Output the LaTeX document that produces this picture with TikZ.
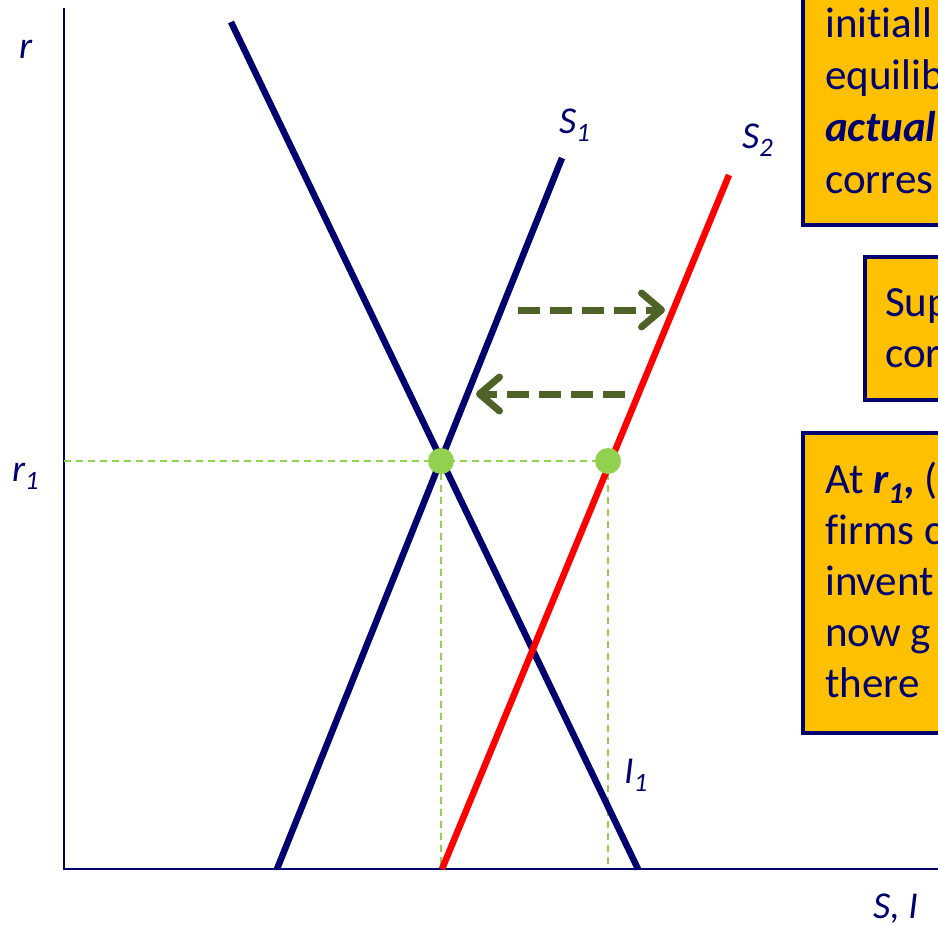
\documentclass[tikz,border=0pt]{standalone}
\usepackage{fontspec}
\setmainfont{Carlito}[Ligatures=NoCommon]
\usetikzlibrary{arrows.meta}
\definecolor{navy}{RGB}{0,0,110}
\definecolor{notefill}{RGB}{255,192,0}
\definecolor{olivegreen}{RGB}{79,98,40}
\definecolor{dotgreen}{RGB}{146,208,80}
\tikzset{
  curve/.style = {line width=6.5pt},
  guide/.style = {dotgreen, line width=1.5pt, dash pattern=on 7pt off 5pt},
  shiftarrow/.style = {olivegreen, line width=7pt, dash pattern=on 22pt off 10pt,
    -{Straight Barb[length=20pt, width=34pt, round]}},
  eqdot/.style = {circle, fill=dotgreen, minimum size=26pt, inner sep=0pt},
  note/.style = {draw=navy, line width=4pt, fill=notefill},
  notetext/.style = {navy, anchor=base west, inner sep=0pt, font=\fontsize{43}{50}\selectfont},
  axislabel/.style = {navy, anchor=base west, inner sep=0pt, font=\fontsize{38}{44}\selectfont\itshape}
}
\begin{document}
\begin{tikzpicture}[x = 1pt, y = -1pt]
\useasboundingbox (0,0) rectangle (938,926);
\clip (0,0) rectangle (938,926);
% axes
\coordinate (top) at (64,8);
\coordinate (origin) at (64,869);
\coordinate (right) at (940,869);
\draw[navy, line width=2pt] (top) -- (origin) -- (right);
\node[axislabel] (r) at (19,58) {r};
\node[axislabel] (r1) at (12,481) {r\textsubscript{1}};
\node[axislabel] (SI) at (873,918) {S, I};
% guides at r1
\coordinate (e1) at (441,461);
\coordinate (e2) at (608,461);
\coordinate (r1 axis) at (64,461);
\draw[guide] (r1 axis) -- (e2);
\draw[guide] (e1) -- (e1 |- origin);
\draw[guide] (e2) -- (e2 |- origin);
% curves
\coordinate (I top) at (231,22);
\coordinate (I end) at (638,869);
\coordinate (S1 end) at (277,869);
\coordinate (S1 top) at (562,158);
\coordinate (S2 end) at (442,869);
\coordinate (S2 top) at (729,175);
\draw[navy, curve] (I top) -- (I end);
\draw[navy, curve] (S1 end) -- (S1 top);
\draw[red, curve] (S2 end) -- (S2 top);
\node[axislabel] (S1) at (559,133) {S\textsubscript{1}};
\node[axislabel] (S2) at (742,148) {S\textsubscript{2}};
\node[axislabel] (I1) at (624,783) {I\textsubscript{1}};
% shifts
\coordinate (a from) at (518,310);
\coordinate (a to) at (665,310);
\coordinate (b from) at (625,394);
\coordinate (b to) at (476,394);
\draw[shiftarrow] (a from) -- (a to);
\draw[shiftarrow] (b from) -- (b to);
\node[eqdot] (dot1) at (e1) {};
\node[eqdot] (dot2) at (e2) {};
% notes
\draw[note] (803,-10) rectangle (960,225);
\draw[note] (865,257) rectangle (960,400);
\draw[note] (803,433) rectangle (960,733);
\foreach \line [count=\k] in {initiall, equilib, \textbf{\textit{actual}}, corres}
{
	\node[notetext] (first\k) at (825, 37+52*\k-52) {\line};
}
\foreach \line [count=\k] in {Sup, cor}
{
	\node[notetext] (second\k) at (885, 316+51*\k-51) {\line};
}
\foreach \line [count=\k] in {{At \textbf{\textit{r\textsubscript{1},}} (}, firms c, invent, now g, there}
{
	\node[notetext] (third\k) at (825, 493+51*\k-51) {\line};
}
\end{tikzpicture}
\end{document}
